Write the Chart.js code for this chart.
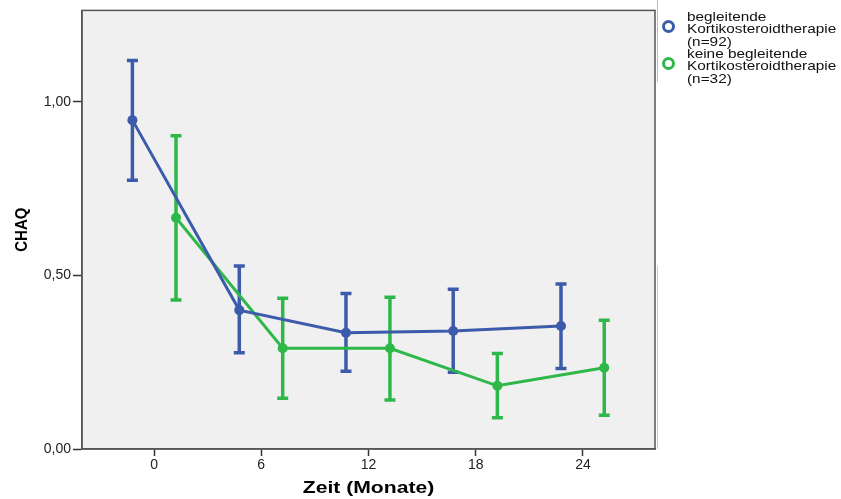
<!DOCTYPE html>
<html>
<head>
<meta charset="utf-8">
<script src="https://cdn.jsdelivr.net/npm/chart.js@4.4.1/dist/chart.umd.min.js"></script>
<style>
  html, body { margin: 0; padding: 0; background: #fff; }
  #wrap { position: relative; width: 841px; height: 499px; }
  #legend { position: absolute; left: 657px; top: 0; width: 184px; height: 82px; border-left: 1px solid #bbb; }
  .item { position: absolute; left: 29px; font-family: "Liberation Sans", Arial, sans-serif; font-size: 13px; line-height: 12.4px; color: #111; transform: scaleX(1.18); transform-origin: left top; white-space: nowrap; }
  .dot { position: absolute; left: 4px; width: 7px; height: 7px; border-radius: 50%; border: 3px solid; }
</style>
</head>
<body>
<div id="wrap">
  <canvas id="chart" width="841" height="499"></canvas>
  <div id="legend"></div>
</div>
<script>
// Data
const seriesNames = ['begleitende Kortikosteroidtherapie (n=92)', 'keine begleitende Kortikosteroidtherapie (n=32)'];
const legendLines = [
  ['begleitende', 'Kortikosteroidtherapie', '(n=92)'],
  ['keine begleitende', 'Kortikosteroidtherapie', '(n=32)']
];
const xTitle = 'Zeit (Monate)';
const yTitle = 'CHAQ';
const xTicks = [0, 6, 12, 18, 24];
const yTicks = [0, 0.5, 1];

const blueX = [-1.21, 4.77, 10.74, 16.74, 22.77];
const blueMean = [0.947, 0.400, 0.335, 0.340, 0.354];
const blueLow = [0.774, 0.277, 0.224, 0.221, 0.232];
const blueHigh = [1.119, 0.527, 0.448, 0.460, 0.475];

const greenX = [1.23, 7.20, 13.20, 19.21, 25.19];
const greenMean = [0.666, 0.290, 0.290, 0.182, 0.234];
const greenLow = [0.429, 0.146, 0.141, 0.090, 0.097];
const greenHigh = [0.902, 0.434, 0.437, 0.275, 0.371];

const blue = '#3d5bab';
const green = '#2fb84a';

const toPoints = (xs, ys) => xs.map((x, i) => ({ x: x, y: ys[i] }));

// legend as html
const legendEl = document.getElementById('legend');
legendEl.innerHTML = legendLines.map((lines, i) => `
  <span class="dot" style="border-color:${i === 0 ? blue : green}; top:${i === 0 ? 20 : 57}px"></span>
  <div class="item" style="top:${i === 0 ? 11 : 48}px">${lines.join('<br>')}</div>`).join('');

const plotBox = {
  id: 'plotBox',
  beforeDraw(chart) {
    const { ctx, chartArea: a } = chart;
    ctx.save();
    ctx.fillStyle = '#f0f0f0';
    ctx.fillRect(a.left, a.top, a.right - a.left, a.bottom - a.top);
    ctx.restore();
  },
  afterDraw(chart) {
    const { ctx, chartArea: a } = chart;
    ctx.save();
    ctx.strokeStyle = '#555';
    ctx.lineWidth = 1.5;
    ctx.strokeRect(a.left, a.top, a.right - a.left, a.bottom - a.top);
    ctx.strokeStyle = '#ccc';
    ctx.lineWidth = 1;
    ctx.beginPath();
    ctx.moveTo(a.right + 2.5, 266);
    ctx.lineTo(a.right + 2.5, a.bottom);
    ctx.stroke();

    // axis titles, drawn a bit wide like the original export
    ctx.fillStyle = '#000';
    ctx.font = 'bold 16px "Liberation Sans"';
    ctx.textAlign = 'center';
    ctx.textBaseline = 'middle';
    ctx.save();
    ctx.translate((a.left + a.right) / 2, 489);
    ctx.scale(1.32, 1);
    ctx.fillText(xTitle, 0, 0);
    ctx.restore();

    ctx.font = 'bold 15px "Liberation Sans"';
    ctx.save();
    ctx.translate(22, (a.top + a.bottom) / 2);
    ctx.rotate(-Math.PI / 2);
    ctx.scale(1, 1.15);
    ctx.fillText(yTitle, 0, 0);
    ctx.restore();
    ctx.restore();
  }
};

const errorBars = {
  id: 'errorBars',
  beforeDatasetsDraw(chart) {
    const { ctx, scales: { x, y } } = chart;
    const sets = [[blueX, blueLow, blueHigh, blue], [greenX, greenLow, greenHigh, green]];
    ctx.save();
    ctx.lineWidth = 3.5;
    sets.forEach(([xs, lo, hi, col]) => {
      ctx.strokeStyle = col;
      xs.forEach((v, i) => {
        const px = x.getPixelForValue(v);
        const y1 = y.getPixelForValue(lo[i]);
        const y2 = y.getPixelForValue(hi[i]);
        ctx.beginPath();
        ctx.moveTo(px, y1); ctx.lineTo(px, y2);
        ctx.moveTo(px - 5.5, y1); ctx.lineTo(px + 5.5, y1);
        ctx.moveTo(px - 5.5, y2); ctx.lineTo(px + 5.5, y2);
        ctx.stroke();
      });
    });
    ctx.restore();
  }
};

new Chart(document.getElementById('chart'), {
  type: 'line',
  data: {
    datasets: [
      {
        label: seriesNames[0],
        data: toPoints(blueX, blueMean),
        borderColor: blue,
        backgroundColor: blue,
        borderWidth: 3,
        pointRadius: 5,
        pointBorderWidth: 0,
        tension: 0
      },
      {
        label: seriesNames[1],
        data: toPoints(greenX, greenMean),
        borderColor: green,
        backgroundColor: green,
        borderWidth: 3,
        pointRadius: 5,
        pointBorderWidth: 0,
        tension: 0
      }
    ]
  },
  options: {
    responsive: false,
    animation: false,
    layout: { padding: { top: 10, right: 186, left: 0, bottom: 0 } },
    plugins: { legend: { display: false }, tooltip: { enabled: false } },
    scales: {
      x: {
        type: 'linear',
        min: -4.03,
        max: 28.03,
        afterBuildTicks: (s) => { s.ticks = xTicks.map(v => ({ value: v })); },
        afterFit: (s) => { s.height = 50; },
        grid: { drawOnChartArea: false, drawTicks: true, tickLength: 7, color: '#333', tickWidth: 1.5 },
        border: { display: true, color: '#555', width: 1.5 },
        ticks: { color: '#222', font: { family: 'Liberation Sans', size: 14 }, padding: 1, maxRotation: 0 }
      },
      y: {
        min: 0,
        max: 1.263,
        afterBuildTicks: (s) => { s.ticks = yTicks.map(v => ({ value: v })); },
        afterFit: (s) => { s.width = 82; },
        grid: { drawOnChartArea: false, drawTicks: true, tickLength: 9, color: '#333', tickWidth: 1.5 },
        border: { display: true, color: '#555', width: 1.5 },
        ticks: {
          color: '#222',
          font: { family: 'Liberation Sans', size: 14 },
          padding: 2,
          callback: (v) => v.toFixed(2).replace('.', ',')
        }
      }
    }
  },
  plugins: [plotBox, errorBars]
});
</script>
</body>
</html>
